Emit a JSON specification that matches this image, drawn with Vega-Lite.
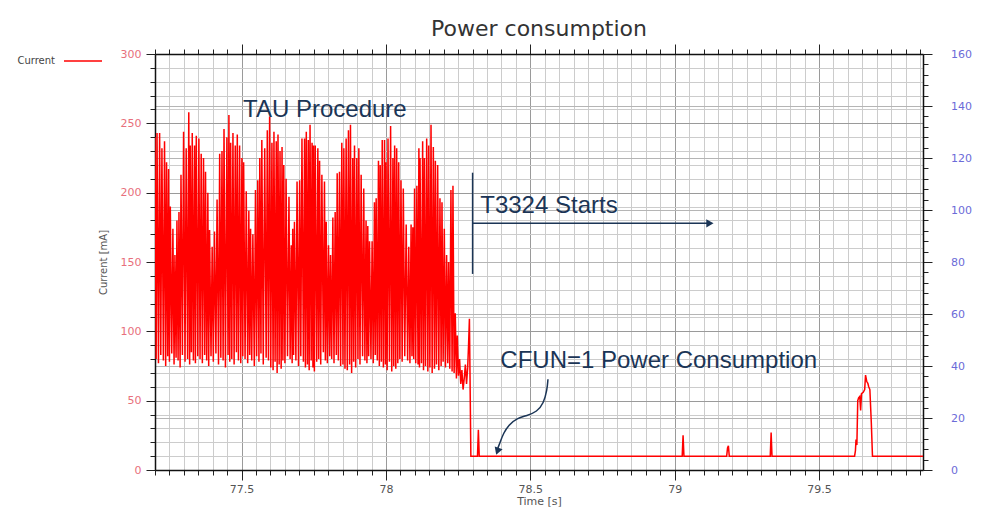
{
"$schema": "https://vega.github.io/schema/vega-lite/v6.json",
"width": 768, "height": 416,
"autosize": {"type": "none"},
"padding": {"left": 155, "top": 54, "right": 62, "bottom": 43},
"background": "white",
"title": {"text": "Power consumption", "font": "DejaVu Sans", "fontSize": 22, "fontWeight": "normal", "color": "#333333", "offset": 0, "anchor": "middle"},
"config": {"view": {"stroke": null}},
"datasets": {
"current": [
{"t":77.200,"v":240},{"t":77.204,"v":80},{"t":77.207,"v":243},{"t":77.212,"v":77},{"t":77.216,"v":243},{"t":77.220,"v":83},{"t":77.224,"v":232},{"t":77.229,"v":79},{"t":77.233,"v":237},{"t":77.237,"v":75},{"t":77.240,"v":222},{"t":77.244,"v":82},{"t":77.247,"v":217},{"t":77.250,"v":78},{"t":77.253,"v":190},{"t":77.258,"v":84},{"t":77.262,"v":174},{"t":77.266,"v":76},{"t":77.269,"v":155},{"t":77.273,"v":81},{"t":77.276,"v":180},{"t":77.280,"v":79},{"t":77.283,"v":186},{"t":77.287,"v":74},{"t":77.290,"v":213},{"t":77.295,"v":83},{"t":77.299,"v":244},{"t":77.304,"v":78},{"t":77.308,"v":232},{"t":77.313,"v":80},{"t":77.317,"v":258},{"t":77.320,"v":76},{"t":77.322,"v":234},{"t":77.326,"v":85},{"t":77.329,"v":243},{"t":77.333,"v":79},{"t":77.337,"v":234},{"t":77.340,"v":77},{"t":77.343,"v":241},{"t":77.348,"v":82},{"t":77.352,"v":239},{"t":77.356,"v":80},{"t":77.360,"v":228},{"t":77.364,"v":77},{"t":77.368,"v":225},{"t":77.372,"v":83},{"t":77.375,"v":215},{"t":77.379,"v":79},{"t":77.383,"v":200},{"t":77.386,"v":75},{"t":77.389,"v":173},{"t":77.394,"v":82},{"t":77.398,"v":161},{"t":77.402,"v":78},{"t":77.406,"v":172},{"t":77.411,"v":84},{"t":77.415,"v":195},{"t":77.420,"v":76},{"t":77.424,"v":228},{"t":77.428,"v":81},{"t":77.432,"v":230},{"t":77.436,"v":79},{"t":77.439,"v":246},{"t":77.444,"v":74},{"t":77.449,"v":240},{"t":77.453,"v":83},{"t":77.456,"v":256},{"t":77.459,"v":78},{"t":77.462,"v":236},{"t":77.466,"v":80},{"t":77.470,"v":243},{"t":77.474,"v":76},{"t":77.478,"v":234},{"t":77.482,"v":85},{"t":77.485,"v":242},{"t":77.489,"v":79},{"t":77.493,"v":234},{"t":77.497,"v":77},{"t":77.501,"v":225},{"t":77.504,"v":82},{"t":77.507,"v":222},{"t":77.512,"v":80},{"t":77.516,"v":201},{"t":77.521,"v":77},{"t":77.525,"v":187},{"t":77.528,"v":83},{"t":77.531,"v":174},{"t":77.535,"v":79},{"t":77.539,"v":170},{"t":77.544,"v":75},{"t":77.548,"v":202},{"t":77.552,"v":82},{"t":77.556,"v":209},{"t":77.560,"v":78},{"t":77.563,"v":225},{"t":77.567,"v":84},{"t":77.570,"v":238},{"t":77.575,"v":76},{"t":77.580,"v":232},{"t":77.585,"v":81},{"t":77.589,"v":245},{"t":77.593,"v":79},{"t":77.597,"v":255},{"t":77.601,"v":74},{"t":77.605,"v":236},{"t":77.609,"v":72},{"t":77.612,"v":244},{"t":77.616,"v":78},{"t":77.620,"v":237},{"t":77.623,"v":70},{"t":77.626,"v":242},{"t":77.630,"v":76},{"t":77.633,"v":230},{"t":77.637,"v":73},{"t":77.640,"v":233},{"t":77.643,"v":79},{"t":77.646,"v":220},{"t":77.650,"v":77},{"t":77.654,"v":210},{"t":77.659,"v":82},{"t":77.664,"v":197},{"t":77.668,"v":80},{"t":77.672,"v":162},{"t":77.675,"v":77},{"t":77.677,"v":174},{"t":77.680,"v":83},{"t":77.683,"v":179},{"t":77.688,"v":79},{"t":77.692,"v":208},{"t":77.697,"v":75},{"t":77.701,"v":209},{"t":77.705,"v":82},{"t":77.709,"v":239},{"t":77.714,"v":78},{"t":77.718,"v":239},{"t":77.721,"v":74},{"t":77.724,"v":244},{"t":77.728,"v":76},{"t":77.731,"v":238},{"t":77.734,"v":72},{"t":77.737,"v":249},{"t":77.741,"v":79},{"t":77.744,"v":236},{"t":77.747,"v":74},{"t":77.749,"v":234},{"t":77.752,"v":71},{"t":77.755,"v":234},{"t":77.760,"v":78},{"t":77.764,"v":232},{"t":77.767,"v":80},{"t":77.770,"v":223},{"t":77.774,"v":76},{"t":77.778,"v":213},{"t":77.783,"v":85},{"t":77.787,"v":208},{"t":77.790,"v":79},{"t":77.793,"v":179},{"t":77.797,"v":77},{"t":77.801,"v":162},{"t":77.805,"v":82},{"t":77.808,"v":155},{"t":77.812,"v":80},{"t":77.816,"v":182},{"t":77.820,"v":77},{"t":77.824,"v":186},{"t":77.828,"v":83},{"t":77.831,"v":214},{"t":77.835,"v":79},{"t":77.839,"v":215},{"t":77.843,"v":75},{"t":77.847,"v":236},{"t":77.851,"v":76},{"t":77.854,"v":232},{"t":77.858,"v":73},{"t":77.862,"v":239},{"t":77.866,"v":72},{"t":77.870,"v":245},{"t":77.874,"v":76},{"t":77.877,"v":249},{"t":77.881,"v":70},{"t":77.885,"v":225},{"t":77.888,"v":78},{"t":77.891,"v":234},{"t":77.895,"v":74},{"t":77.899,"v":225},{"t":77.903,"v":80},{"t":77.906,"v":232},{"t":77.910,"v":76},{"t":77.914,"v":213},{"t":77.919,"v":82},{"t":77.923,"v":203},{"t":77.927,"v":79},{"t":77.931,"v":180},{"t":77.934,"v":77},{"t":77.937,"v":176},{"t":77.940,"v":82},{"t":77.943,"v":165},{"t":77.948,"v":80},{"t":77.952,"v":165},{"t":77.956,"v":77},{"t":77.960,"v":193},{"t":77.963,"v":83},{"t":77.966,"v":196},{"t":77.970,"v":79},{"t":77.974,"v":223},{"t":77.977,"v":75},{"t":77.980,"v":220},{"t":77.984,"v":78},{"t":77.987,"v":238},{"t":77.991,"v":74},{"t":77.995,"v":238},{"t":77.998,"v":76},{"t":78.000,"v":222},{"t":78.004,"v":72},{"t":78.007,"v":239},{"t":78.012,"v":78},{"t":78.016,"v":248},{"t":78.020,"v":71},{"t":78.024,"v":225},{"t":78.027,"v":75},{"t":78.030,"v":234},{"t":78.034,"v":73},{"t":78.037,"v":232},{"t":78.041,"v":77},{"t":78.044,"v":222},{"t":78.048,"v":80},{"t":78.052,"v":209},{"t":78.056,"v":78},{"t":78.060,"v":203},{"t":78.065,"v":82},{"t":78.070,"v":177},{"t":78.075,"v":79},{"t":78.079,"v":161},{"t":78.083,"v":77},{"t":78.087,"v":177},{"t":78.090,"v":82},{"t":78.093,"v":175},{"t":78.096,"v":80},{"t":78.099,"v":203},{"t":78.103,"v":77},{"t":78.107,"v":205},{"t":78.111,"v":76},{"t":78.114,"v":232},{"t":78.116,"v":74},{"t":78.118,"v":225},{"t":78.123,"v":77},{"t":78.127,"v":237},{"t":78.130,"v":72},{"t":78.133,"v":225},{"t":78.137,"v":75},{"t":78.141,"v":239},{"t":78.145,"v":71},{"t":78.148,"v":234},{"t":78.152,"v":74},{"t":78.156,"v":249},{"t":78.160,"v":70},{"t":78.164,"v":233},{"t":78.168,"v":73},{"t":78.171,"v":223},{"t":78.175,"v":76},{"t":78.179,"v":220},{"t":78.183,"v":72},{"t":78.187,"v":196},{"t":78.191,"v":75},{"t":78.194,"v":193},{"t":78.198,"v":78},{"t":78.202,"v":174},{"t":78.206,"v":74},{"t":78.210,"v":155},{"t":78.214,"v":77},{"t":78.217,"v":150},{"t":78.221,"v":73},{"t":78.225,"v":202},{"t":78.229,"v":71},{"t":78.232,"v":205},{"t":78.236,"v":70},{"t":78.240,"v":113},{"t":78.244,"v":66},{"t":78.247,"v":97},{"t":78.251,"v":68},{"t":78.255,"v":80},{"t":78.259,"v":62},{"t":78.263,"v":72},{"t":78.267,"v":58},{"t":78.271,"v":66},{"t":78.275,"v":76},{"t":78.279,"v":62},{"t":78.283,"v":74},{"t":78.286,"v":90},{"t":78.289,"v":109},{"t":78.294,"v":10},
{"t":78.317,"v":10},{"t":78.320,"v":29},{"t":78.323,"v":10},{"t":79.026,"v":10},{"t":79.029,"v":25},{"t":79.032,"v":10},{"t":79.180,"v":10},{"t":79.183,"v":16},{"t":79.186,"v":17.5},{"t":79.189,"v":10},{"t":79.331,"v":10},{"t":79.334,"v":27},{"t":79.337,"v":10},{"t":79.623,"v":10},{"t":79.626,"v":14},{"t":79.628,"v":22},{"t":79.631,"v":18},{"t":79.634,"v":50},{"t":79.637,"v":52},{"t":79.641,"v":53},{"t":79.644,"v":43},{"t":79.647,"v":55},{"t":79.653,"v":56},{"t":79.658,"v":58},{"t":79.661,"v":68.5},{"t":79.665,"v":64},{"t":79.669,"v":62.5},{"t":79.672,"v":60},{"t":79.676,"v":58},{"t":79.681,"v":34},{"t":79.685,"v":10},{"t":79.86,"v":10}
],
"labels": [
{"t":77.505,"v":254.8,"label":"TAU Procedure"},
{"t":78.3265,"v":185.1,"label":"T3324 Starts"},
{"t":78.396,"v":73.3,"label":"CFUN=1 Power Consumption"}
],
"guides": [
{"t":78.300,"t2":78.300,"v":141.4,"v2":214.4},
{"t":78.300,"t2":79.118,"v":177.9,"v2":177.9}
],
"curve": [
{"i":0,"t":78.561,"v":65.4},{"i":1,"t":78.558,"v":57.7},{"i":2,"t":78.546,"v":48.1},{"i":3,"t":78.523,"v":42.0},{"i":4,"t":78.488,"v":39.2},{"i":5,"t":78.454,"v":37.3},{"i":6,"t":78.425,"v":32.5},{"i":7,"t":78.407,"v":26.5},{"i":8,"t":78.396,"v":20.4},{"i":9,"t":78.387,"v":15.5}
],
"headRight": [{"t":79.122,"v":177.9}],
"headDown": [{"t":78.386,"v":13.5}],
"rightScale": [{"t":77.2,"r":0},{"t":79.86,"r":160}]
},
"layer": [
{
"data": {"name": "current"},
"mark": {"type": "line", "strokeWidth": 1.5, "interpolate": "linear", "clip": true},
"encoding": {
"x": {"field": "t", "type": "quantitative",
 "scale": {"domain": [77.2, 79.86], "nice": false, "zero": false},
 "axis": {"orient": "bottom", "title": "Time [s]",
  "values": [77.2,77.25,77.3,77.35,77.4,77.45,77.5,77.55,77.6,77.65,77.7,77.75,77.8,77.85,77.9,77.95,78,78.05,78.1,78.15,78.2,78.25,78.3,78.35,78.4,78.45,78.5,78.55,78.6,78.65,78.7,78.75,78.8,78.85,78.9,78.95,79,79.05,79.1,79.15,79.2,79.25,79.3,79.35,79.4,79.45,79.5,79.55,79.6,79.65,79.7,79.75,79.8,79.85],
  "labelExpr": "abs(datum.value*2 - round(datum.value*2)) < 0.001 ? toString(round(datum.value*10)/10) : ''",
  "labelFont": "DejaVu Sans", "labelFontSize": 11, "labelColor": "#555555", "labelPadding": 3, "labelOverlap": false, "labelFlush": false,
  "tickSize": {"condition": {"test": "abs(datum.value*2 - round(datum.value*2)) < 0.001", "value": 10}, "value": 5},
  "tickColor": "#222222", "tickWidth": 1,
  "domainColor": "#111111", "domainWidth": 1.5,
  "grid": true, "gridWidth": 1,
  "gridColor": {"condition": {"test": "abs(datum.value*2 - round(datum.value*2)) < 0.001", "value": "#9a9a9a"}, "value": "#cccccc"},
  "titleFont": "DejaVu Sans", "titleFontSize": 11, "titleFontWeight": "normal", "titleColor": "#555555", "titlePadding": 1}},
"y": {"field": "v", "type": "quantitative",
 "scale": {"domain": [0, 300], "nice": false},
 "axis": {"orient": "left", "title": "Current [mA]",
  "values": [0,10,20,30,40,50,60,70,80,90,100,110,120,130,140,150,160,170,180,190,200,210,220,230,240,250,260,270,280,290,300],
  "labelExpr": "datum.value % 50 === 0 ? datum.label : ''",
  "labelFont": "DejaVu Sans", "labelFontSize": 11, "labelColor": "#e8707c", "labelPadding": 5,
  "tickSize": {"condition": {"test": "datum.value % 50 === 0", "value": 9}, "value": 5},
  "tickColor": "#222222", "tickWidth": 1,
  "domainColor": "#111111", "domainWidth": 1.5,
  "grid": true, "gridWidth": 1,
  "gridColor": {"condition": {"test": "datum.value % 50 === 0", "value": "#9a9a9a"}, "value": "#cccccc"},
  "titleFont": "DejaVu Sans", "titleFontSize": 10, "titleFontWeight": "normal", "titleColor": "#555555", "titlePadding": 12}},
"color": {"datum": "Current", "type": "nominal", "scale": {"range": ["#ff0000"]},
 "legend": {"orient": "none", "legendX": -92, "legendY": -13, "title": null, "symbolType": "stroke", "symbolSize": 1444, "symbolStrokeWidth": 1.5, "labelAlign": "right", "labelOffset": -48, "labelFont": "DejaVu Sans", "labelFontSize": 10, "labelColor": "#444444"}}
}
},
{
"data": {"name": "guides"},
"mark": {"type": "rule", "color": "#1b3556", "strokeWidth": 1.5},
"encoding": {
"x": {"field": "t", "type": "quantitative", "axis": null},
"x2": {"field": "t2"},
"y": {"field": "v", "type": "quantitative", "axis": null, "scale": {"domain": [0, 300], "nice": false}},
"y2": {"field": "v2"}
}
},
{
"data": {"name": "curve"},
"mark": {"type": "line", "color": "#1b3556", "strokeWidth": 1.5, "interpolate": "basis"},
"encoding": {
"x": {"field": "t", "type": "quantitative", "axis": null},
"y": {"field": "v", "type": "quantitative", "axis": null, "scale": {"domain": [0, 300], "nice": false}},
"order": {"field": "i", "type": "quantitative"}
}
},
{
"data": {"name": "headRight"},
"mark": {"type": "point", "shape": "triangle-right", "filled": true, "size": 70, "color": "#1b3556", "opacity": 1},
"encoding": {
"x": {"field": "t", "type": "quantitative", "axis": null},
"y": {"field": "v", "type": "quantitative", "axis": null, "scale": {"domain": [0, 300], "nice": false}}
}
},
{
"data": {"name": "headDown"},
"mark": {"type": "point", "shape": "triangle-down", "filled": true, "size": 70, "angle": 20, "color": "#1b3556", "opacity": 1},
"encoding": {
"x": {"field": "t", "type": "quantitative", "axis": null},
"y": {"field": "v", "type": "quantitative", "axis": null, "scale": {"domain": [0, 300], "nice": false}}
}
},
{
"data": {"name": "labels"},
"mark": {"type": "text", "font": "Liberation Sans", "fontSize": 24, "color": "#1b3556", "align": "left", "baseline": "alphabetic"},
"encoding": {
"x": {"field": "t", "type": "quantitative", "axis": null},
"y": {"field": "v", "type": "quantitative", "axis": null, "scale": {"domain": [0, 300], "nice": false}},
"text": {"field": "label"}
}
},
{
"data": {"name": "rightScale"},
"mark": {"type": "point", "opacity": 0},
"encoding": {
"x": {"field": "t", "type": "quantitative",
 "scale": {"domain": [77.2, 79.86], "nice": false, "zero": false},
 "axis": {"orient": "top", "title": null, "labels": false,
  "values": [77.2,77.25,77.3,77.35,77.4,77.45,77.5,77.55,77.6,77.65,77.7,77.75,77.8,77.85,77.9,77.95,78,78.05,78.1,78.15,78.2,78.25,78.3,78.35,78.4,78.45,78.5,78.55,78.6,78.65,78.7,78.75,78.8,78.85,78.9,78.95,79,79.05,79.1,79.15,79.2,79.25,79.3,79.35,79.4,79.45,79.5,79.55,79.6,79.65,79.7,79.75,79.8,79.85],
  "tickSize": {"condition": {"test": "abs(datum.value*2 - round(datum.value*2)) < 0.001", "value": 10}, "value": 5},
  "tickColor": "#222222", "tickWidth": 1,
  "domainColor": "#111111", "domainWidth": 1.5, "grid": false}},
"y": {"field": "r", "type": "quantitative",
 "scale": {"domain": [0, 160], "nice": false},
 "axis": {"orient": "right", "title": null,
  "values": [0,4,8,12,16,20,24,28,32,36,40,44,48,52,56,60,64,68,72,76,80,84,88,92,96,100,104,108,112,116,120,124,128,132,136,140,144,148,152,156,160],
  "labelExpr": "datum.value % 20 === 0 ? datum.label : ''",
  "labelFont": "DejaVu Sans", "labelFontSize": 11, "labelColor": "#6b6bd8", "labelPadding": 18.5,
  "tickSize": {"condition": {"test": "datum.value % 20 === 0", "value": 9}, "value": 5},
  "tickColor": "#222222", "tickWidth": 1,
  "domainColor": "#111111", "domainWidth": 1.5,
  "grid": true, "gridWidth": 1, "gridColor": "#b5b5b5",
  "gridOpacity": {"condition": {"test": "datum.value % 20 === 0", "value": 1}, "value": 0}}}
}
}
],
"resolve": {"scale": {"y": "independent"}, "axis": {"x": "independent"}}
}
